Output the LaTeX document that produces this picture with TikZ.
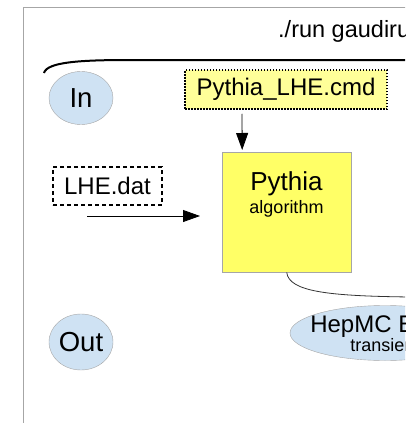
\documentclass[tikz,border=0pt]{standalone}
\usepackage{fontspec}
\setmainfont{Liberation Sans}
\usetikzlibrary{shapes.geometric,arrows.meta}
\definecolor{stateblue}{HTML}{CFE2F3}
\definecolor{algoyellow}{HTML}{FFFF66}
\definecolor{cmdyellow}{HTML}{FFFF99}
\tikzset{
  datastore/.style={ellipse, draw=gray!70, fill=stateblue, inner sep=0pt},
  algobox/.style={draw=gray!70, fill=algoyellow, minimum width=129pt, minimum height=120pt, anchor=north west},
  flow/.style={-{Triangle[length=17pt,width=12pt]}, line width=0.8pt},
  big/.style={font=\fontsize{24}{27}\selectfont},
  huge/.style={font=\fontsize{27.5}{30}\selectfont},
  small/.style={font=\fontsize{18}{20}\selectfont},
}
\begin{document}
\begin{tikzpicture}[x=1pt,y=-1pt]
      \clip (0,0) rectangle (405,423);
      \draw[gray!70] (23.5,430) -- (23.5,7.5) -- (410,7.5);
      \node[anchor=base west, inner sep=0pt, font=\fontsize{23.5}{26}\selectfont] (run) at (278,37) {./run gaudirun};
      \draw[line width=2pt] (44,73) .. controls (47,62) and (80,60) .. (130,60) -- (410,60);
      % input side
      \node[datastore, huge, minimum width=64pt, minimum height=53pt] (in) at (81,98) {In};
      \node[draw, dash pattern=on 1.5pt off 1.5pt, line width=1.5pt, fill=cmdyellow, minimum width=202pt, minimum height=39pt, big] (cmd) at (286,89.5) {Pythia\_LHE.cmd};
      \node[draw, dash pattern=on 4pt off 3pt, line width=2.5pt, minimum width=109pt, minimum height=38pt, big] (lhe) at (107.5,186) {LHE.dat};
      % algorithm
      \node[algobox] (pythia) at (222,152) {};
      \node[anchor=base, font=\fontsize{26}{29}\selectfont] (pyname) at (286.5,190) {Pythia};
      \node[anchor=base, small] (pyalg) at (286.5,213) {algorithm};
      \draw[flow, shorten <=4pt, shorten >=2pt] ([xshift=-44pt]cmd.south) -- ([xshift=-44.5pt]pythia.north);
      \coordinate (lhein) at (87,216);
      \draw[flow, shorten >=22pt] (lhein) -- (lhein -| pythia.west);
      \draw[gray!40!black, line width=0.8pt] (pythia.south) .. controls (289,292) and (330,296) .. (410,297);
      % output side
      \node[datastore, huge, minimum width=64pt, minimum height=56pt] (out) at (81,342) {Out};
      \node[datastore, minimum width=190pt, minimum height=55pt] (hepmc) at (385,333) {};
      \node[anchor=base, big] (hepname) at (385,332) {HepMC Event};
      \node[anchor=base, small] (hepstore) at (385,351) {transient};
\end{tikzpicture}
\end{document}
